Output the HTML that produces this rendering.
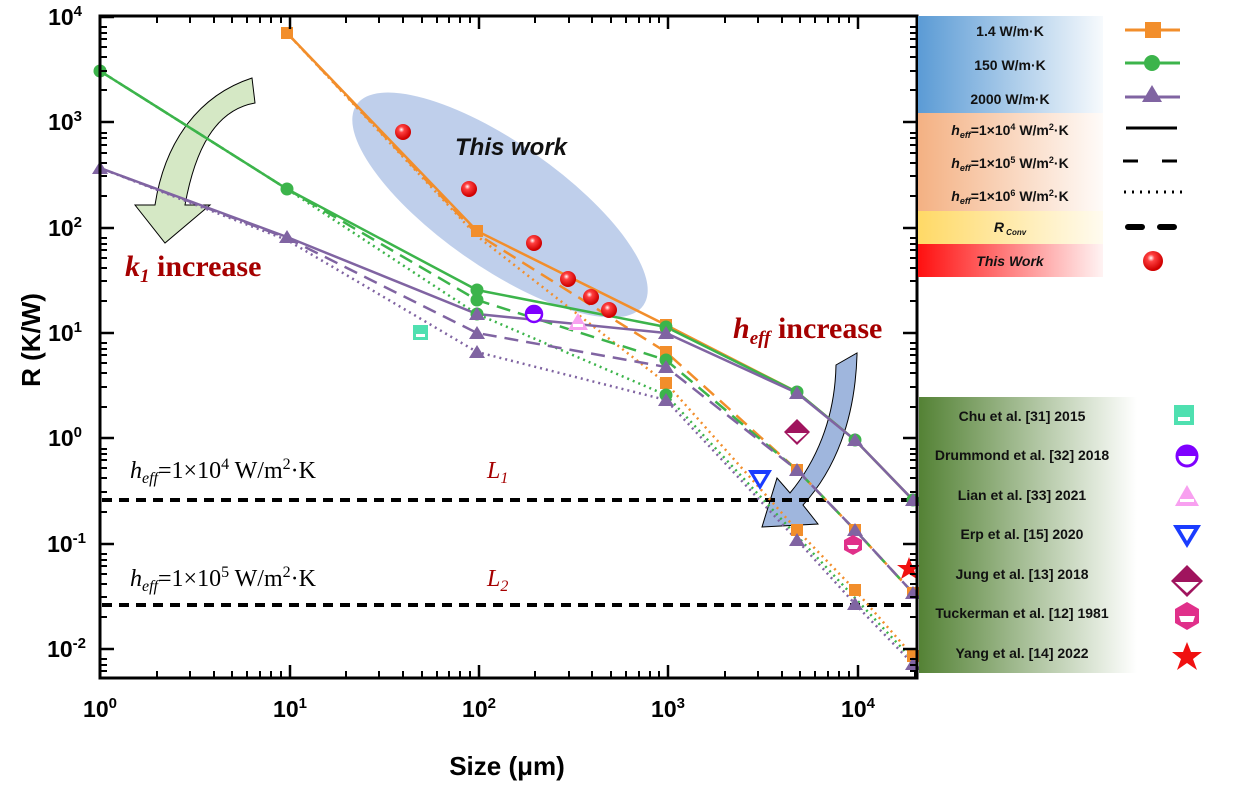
<!DOCTYPE html>
<html><head><meta charset="utf-8"><style>
body{margin:0;background:#fff;}
svg{display:block;font-family:"Liberation Sans",sans-serif;}
</style></head><body>
<svg width="1233" height="787" viewBox="0 0 1233 787" xmlns="http://www.w3.org/2000/svg">
<defs>
<linearGradient id="gb" x1="0" x2="1"><stop offset="0" stop-color="#5b9bd5"/><stop offset="1" stop-color="#5b9bd5" stop-opacity="0.05"/></linearGradient>
<linearGradient id="go" x1="0" x2="1"><stop offset="0" stop-color="#f4b183"/><stop offset="1" stop-color="#f4b183" stop-opacity="0.05"/></linearGradient>
<linearGradient id="gy" x1="0" x2="1"><stop offset="0" stop-color="#ffd966"/><stop offset="1" stop-color="#ffd966" stop-opacity="0.1"/></linearGradient>
<linearGradient id="gr" x1="0" x2="1"><stop offset="0" stop-color="#ff1010"/><stop offset="1" stop-color="#ff1010" stop-opacity="0.05"/></linearGradient>
<linearGradient id="gg" x1="0" x2="1"><stop offset="0" stop-color="#548235"/><stop offset="1" stop-color="#548235" stop-opacity="0"/></linearGradient>
<radialGradient id="ball" cx="0.4" cy="0.35" r="0.6"><stop offset="0" stop-color="#fff"/><stop offset="0.3" stop-color="#ff4040"/><stop offset="1" stop-color="#d00000"/></radialGradient>
</defs>

<ellipse cx="500" cy="205" rx="175" ry="62" transform="rotate(35 500 205)" fill="#b4c7e7" opacity="0.85"/>
<text x="455" y="155" font-size="24" font-weight="bold" font-style="italic" fill="#111">This work</text>

<path d="M252,78 L255,103 C215,110 195,150 185,205 L210,205 L165,243 L135,205 L155,205 C165,140 200,95 252,78 Z" fill="#d5e8c5" stroke="#000" stroke-width="1"/>
<path d="M857,353 L857,355 C855,420 835,470 803,505 L818,524 L762,527 L777,478 L790,493 C815,463 835,420 836,365 Z" fill="#9fb6dd" stroke="#000" stroke-width="1"/>

<g stroke="#000" stroke-width="4" stroke-dasharray="10,7">
<line x1="102" y1="500" x2="917" y2="500"/>
<line x1="102" y1="605" x2="917" y2="605"/>
</g>

<g fill="none" stroke-width="2.5" stroke-dasharray="2,4">
<polyline stroke="#f28e2b" points="287,33 477,236 666,383 797,530 855,590 913,656"/>
<polyline stroke="#3cb44b" points="100,71 287,189 477,314 666,395 797,536 855,598 913,660"/>
<polyline stroke="#8064a2" points="100,168 287,240 477,352 666,400 797,540 855,604 913,664"/>
</g>
<g fill="none" stroke-width="2.5" stroke-dasharray="14,8">
<polyline stroke="#f28e2b" points="287,33 477,234 666,352 797,470 855,530 913,593"/>
<polyline stroke="#3cb44b" points="100,71 287,189 477,300 666,360 797,470 855,530 913,593"/>
<polyline stroke="#8064a2" points="100,168 287,238 477,333 666,367 797,470 855,530 913,593"/>
</g>
<g fill="none" stroke-width="2.5">
<polyline stroke="#f28e2b" points="287,33 477,231 666,325 797,392 855,440 913,500"/>
<polyline stroke="#3cb44b" points="100,71 287,189 477,290 666,327 797,392 855,440 913,500"/>
<polyline stroke="#8064a2" points="100,168 287,237 477,314 666,333 797,393 855,440 913,500"/>
</g>

<g fill="#f28e2b">
<rect x="281" y="27" width="12" height="12"/><rect x="471" y="225" width="12" height="12"/><rect x="660" y="319" width="12" height="12"/><rect x="660" y="346" width="12" height="12"/><rect x="660" y="377" width="12" height="12"/><rect x="791" y="524" width="12" height="12"/><rect x="791" y="464" width="12" height="12"/><rect x="849" y="584" width="12" height="12"/><rect x="849" y="524" width="12" height="12"/><rect x="907" y="650" width="12" height="12"/><rect x="907" y="587" width="12" height="12"/>
</g>
<g fill="#3cb44b">
<circle cx="100" cy="71" r="6.5"/><circle cx="287" cy="189" r="6.5"/><circle cx="477" cy="290" r="6.5"/><circle cx="477" cy="300" r="6.5"/><circle cx="477" cy="314" r="6.5"/><circle cx="666" cy="327" r="6.5"/><circle cx="666" cy="360" r="6.5"/><circle cx="666" cy="395" r="6.5"/><circle cx="797" cy="392" r="6.5"/><circle cx="855" cy="440" r="6.5"/><circle cx="913" cy="500" r="6.5"/>
</g>
<g fill="#8064a2">
<path d="M100,161 l8,13 h-16z M287,230 l8,13 h-16z M477,307 l8,13 h-16z M477,326 l8,13 h-16z M477,345 l8,13 h-16z M666,326 l8,13 h-16z M666,360 l8,13 h-16z M666,393 l8,13 h-16z M797,386 l8,13 h-16z M797,463 l8,13 h-16z M797,533 l8,13 h-16z M855,433 l8,13 h-16z M855,523 l8,13 h-16z M855,597 l8,13 h-16z M913,493 l8,13 h-16z M913,586 l8,13 h-16z M913,657 l8,13 h-16z"/>
</g>

<g fill="url(#ball)">
<circle cx="403" cy="132" r="8"/><circle cx="469" cy="189" r="8"/><circle cx="534" cy="243" r="8"/><circle cx="568" cy="279" r="8"/><circle cx="591" cy="297" r="8"/><circle cx="609" cy="310" r="8"/>
</g>

<rect x="413" y="325" width="15" height="15" fill="#4fe0b0"/><rect x="416" y="334" width="9" height="3" fill="#fff"/>
<circle cx="534" cy="314" r="8" fill="#fff" stroke="#7f00ff" stroke-width="2.5"/><path d="M526,314 a8,8 0 0 1 16,0z" fill="#7f00ff"/>
<path d="M578,313 l10,17 h-20z" fill="#f8a0f0"/><rect x="573" y="324" width="10" height="3" fill="#fff"/>
<path d="M748,470 h24 l-12,20z" fill="#1a3cff"/><path d="M754,474 h12 l-6,10z" fill="#fff"/>
<path d="M797,419 l13,13 l-13,13 l-13,-13z" fill="#a0145e"/><path d="M787,433 h20 l-10,9z" fill="#fff"/>
<path d="M853,535 l9,5 v10 l-9,5 l-9,-5 v-10z" fill="#e0308a"/><path d="M847,545 h12 l-2,4 h-8z" fill="#fff"/>
<path d="M909,557 l3,8 h9 l-7,5 l3,9 l-8,-5 l-8,5 l3,-9 l-7,-5 h9z" fill="#f01010"/>

<rect x="100" y="16" width="817" height="662" fill="none" stroke="#000" stroke-width="3"/>
<g stroke="#000" stroke-width="2.5">
<line x1="100" y1="678" x2="100" y2="668"/><line x1="290" y1="678" x2="290" y2="665"/><line x1="479" y1="678" x2="479" y2="665"/><line x1="668" y1="678" x2="668" y2="665"/><line x1="858" y1="678" x2="858" y2="665"/>
<line x1="290" y1="16" x2="290" y2="29"/><line x1="479" y1="16" x2="479" y2="29"/><line x1="668" y1="16" x2="668" y2="29"/><line x1="858" y1="16" x2="858" y2="29"/>
<line x1="100" y1="17" x2="114" y2="17"/><line x1="100" y1="122" x2="114" y2="122"/><line x1="100" y1="228" x2="114" y2="228"/><line x1="100" y1="333" x2="114" y2="333"/><line x1="100" y1="438" x2="114" y2="438"/><line x1="100" y1="544" x2="114" y2="544"/><line x1="100" y1="649" x2="114" y2="649"/>
<line x1="917" y1="122" x2="903" y2="122"/><line x1="917" y1="228" x2="903" y2="228"/><line x1="917" y1="333" x2="903" y2="333"/><line x1="917" y1="438" x2="903" y2="438"/><line x1="917" y1="544" x2="903" y2="544"/><line x1="917" y1="649" x2="903" y2="649"/>
</g>
<g stroke="#000" stroke-width="2">
<path d="M157,678v-7M190,678v-7M214,678v-7M232,678v-7M247,678v-7M260,678v-7M271,678v-7M281,678v-7
M346,678v-7M379,678v-7M403,678v-7M422,678v-7M437,678v-7M449,678v-7M460,678v-7M470,678v-7
M535,678v-7M569,678v-7M592,678v-7M611,678v-7M626,678v-7M639,678v-7M650,678v-7M659,678v-7
M725,678v-7M758,678v-7M782,678v-7M800,678v-7M815,678v-7M828,678v-7M839,678v-7M849,678v-7M915,678v-7
M157,16v7M190,16v7M214,16v7M232,16v7M247,16v7M260,16v7M271,16v7M281,16v7
M346,16v7M379,16v7M403,16v7M422,16v7M437,16v7M449,16v7M460,16v7M470,16v7
M535,16v7M569,16v7M592,16v7M611,16v7M626,16v7M639,16v7M650,16v7M659,16v7
M725,16v7M758,16v7M782,16v7M800,16v7M815,16v7M828,16v7M839,16v7M849,16v7"/>
<path d="M100,27h7M100,33h7M100,39h7M100,47h7M100,57h7M100,71h7M100,90h7M100,133h7M100,138h7M100,145h7M100,153h7M100,163h7M100,176h7M100,196h7M100,238h7M100,244h7M100,250h7M100,258h7M100,268h7M100,281h7M100,301h7M100,343h7M100,349h7M100,355h7M100,363h7M100,373h7M100,387h7M100,407h7M100,449h7M100,454h7M100,460h7M100,468h7M100,478h7M100,492h7M100,512h7M100,554h7M100,560h7M100,566h7M100,574h7M100,584h7M100,597h7M100,617h7M100,659h7M100,665h7M100,671h7"/>
<path d="M917,27h-7M917,33h-7M917,39h-7M917,47h-7M917,57h-7M917,71h-7M917,90h-7M917,133h-7M917,138h-7M917,145h-7M917,153h-7M917,163h-7M917,176h-7M917,196h-7M917,238h-7M917,244h-7M917,250h-7M917,258h-7M917,268h-7M917,281h-7M917,301h-7M917,343h-7M917,349h-7M917,355h-7M917,363h-7M917,373h-7M917,387h-7M917,407h-7M917,449h-7M917,454h-7M917,460h-7M917,468h-7M917,478h-7M917,492h-7M917,512h-7M917,554h-7M917,560h-7M917,566h-7M917,574h-7M917,584h-7M917,597h-7M917,617h-7M917,659h-7M917,665h-7M917,671h-7"/>
</g>

<g font-size="23" font-weight="bold" fill="#000" text-anchor="end">
<text x="82" y="25">10<tspan dy="-9" font-size="15">4</tspan></text>
<text x="82" y="130">10<tspan dy="-9" font-size="15">3</tspan></text>
<text x="82" y="236">10<tspan dy="-9" font-size="15">2</tspan></text>
<text x="82" y="341">10<tspan dy="-9" font-size="15">1</tspan></text>
<text x="82" y="446">10<tspan dy="-9" font-size="15">0</tspan></text>
<text x="86" y="552">10<tspan dy="-9" font-size="15">-1</tspan></text>
<text x="86" y="657">10<tspan dy="-9" font-size="15">-2</tspan></text>
</g>
<g font-size="23" font-weight="bold" fill="#000" text-anchor="middle">
<text x="100" y="717">10<tspan dy="-9" font-size="15">0</tspan></text>
<text x="290" y="717">10<tspan dy="-9" font-size="15">1</tspan></text>
<text x="479" y="717">10<tspan dy="-9" font-size="15">2</tspan></text>
<text x="668" y="717">10<tspan dy="-9" font-size="15">3</tspan></text>
<text x="858" y="717">10<tspan dy="-9" font-size="15">4</tspan></text>
</g>
<text x="507" y="775" font-size="26" font-weight="bold" text-anchor="middle">Size (μm)</text>
<text transform="translate(40,340) rotate(-90)" font-size="26" font-weight="bold" text-anchor="middle">R (K/W)</text>

<g font-family="Liberation Serif,serif" font-weight="bold" fill="#a50000">
<text x="125" y="276" font-size="30"><tspan font-style="italic">k</tspan><tspan font-style="italic" font-size="19" dy="6">1</tspan><tspan dy="-6">  increase</tspan></text>
<text x="733" y="338" font-size="30"><tspan font-style="italic">h</tspan><tspan font-style="italic" font-size="19" dy="6">eff</tspan><tspan dy="-6">  increase</tspan></text>
<text x="487" y="478" font-size="24" font-style="italic" font-weight="normal">L<tspan font-size="16" dy="5">1</tspan></text>
<text x="487" y="586" font-size="24" font-style="italic" font-weight="normal">L<tspan font-size="16" dy="5">2</tspan></text>
</g>
<g font-family="Liberation Serif,serif" font-size="24" fill="#000">
<text x="130" y="478"><tspan font-style="italic">h</tspan><tspan font-style="italic" font-size="16" dy="5">eff</tspan><tspan dy="-5">=1×10</tspan><tspan font-size="16" dy="-9">4</tspan><tspan dy="9"> W/m</tspan><tspan font-size="16" dy="-9">2</tspan><tspan dy="9">·K</tspan></text>
<text x="130" y="586"><tspan font-style="italic">h</tspan><tspan font-style="italic" font-size="16" dy="5">eff</tspan><tspan dy="-5">=1×10</tspan><tspan font-size="16" dy="-9">5</tspan><tspan dy="9"> W/m</tspan><tspan font-size="16" dy="-9">2</tspan><tspan dy="9">·K</tspan></text>
</g>

<rect x="918" y="16" width="185" height="97" fill="url(#gb)"/>
<rect x="918" y="113" width="185" height="98" fill="url(#go)"/>
<rect x="918" y="211" width="185" height="33" fill="url(#gy)"/>
<rect x="918" y="244" width="185" height="33" fill="url(#gr)"/>
<g font-size="14" font-weight="bold" text-anchor="middle" fill="#111">
<text x="1010" y="36">1.4 W/m·K</text>
<text x="1010" y="70">150 W/m·K</text>
<text x="1010" y="104">2000 W/m·K</text>
<text x="1010" y="135"><tspan font-style="italic">h</tspan><tspan font-style="italic" font-size="9" dy="3">eff</tspan><tspan dy="-3">=1×10</tspan><tspan font-size="9" dy="-5">4</tspan><tspan dy="5"> W/m</tspan><tspan font-size="9" dy="-5">2</tspan><tspan dy="5">·K</tspan></text>
<text x="1010" y="168"><tspan font-style="italic">h</tspan><tspan font-style="italic" font-size="9" dy="3">eff</tspan><tspan dy="-3">=1×10</tspan><tspan font-size="9" dy="-5">5</tspan><tspan dy="5"> W/m</tspan><tspan font-size="9" dy="-5">2</tspan><tspan dy="5">·K</tspan></text>
<text x="1010" y="201"><tspan font-style="italic">h</tspan><tspan font-style="italic" font-size="9" dy="3">eff</tspan><tspan dy="-3">=1×10</tspan><tspan font-size="9" dy="-5">6</tspan><tspan dy="5"> W/m</tspan><tspan font-size="9" dy="-5">2</tspan><tspan dy="5">·K</tspan></text>
<text x="1010" y="232" font-style="italic">R<tspan font-size="8" dy="3"> Conv</tspan></text>
<text x="1010" y="266" font-style="italic">This Work</text>
</g>
<line x1="1125" y1="30" x2="1180" y2="30" stroke="#f28e2b" stroke-width="3"/><rect x="1145" y="22" width="16" height="16" fill="#f28e2b"/>
<line x1="1125" y1="63" x2="1180" y2="63" stroke="#3cb44b" stroke-width="3"/><circle cx="1152" cy="63" r="8" fill="#3cb44b"/>
<line x1="1125" y1="97" x2="1180" y2="97" stroke="#8064a2" stroke-width="3"/><path d="M1152,85 l10,17 h-20z" fill="#8064a2"/>
<line x1="1126" y1="128" x2="1177" y2="128" stroke="#000" stroke-width="3"/>
<path d="M1123,161h15M1162,161h15" stroke="#000" stroke-width="3"/>
<line x1="1124" y1="192" x2="1182" y2="192" stroke="#000" stroke-width="3" stroke-dasharray="2,6"/>
<path d="M1128,227h14M1160,227h14" stroke="#000" stroke-width="6" stroke-linecap="round"/>
<circle cx="1153" cy="261" r="10" fill="url(#ball)"/>

<rect x="919" y="397" width="218" height="276" fill="url(#gg)"/>
<g font-size="14" font-weight="bold" text-anchor="middle" fill="#111">
<text x="1022" y="421">Chu et al. [31] 2015</text>
<text x="1022" y="460">Drummond et al. [32] 2018</text>
<text x="1022" y="500">Lian et al. [33] 2021</text>
<text x="1022" y="539">Erp et al. [15] 2020</text>
<text x="1022" y="579">Jung et al. [13] 2018</text>
<text x="1022" y="618">Tuckerman et al. [12] 1981</text>
<text x="1022" y="658">Yang et al. [14] 2022</text>
</g>
<rect x="1174" y="405" width="20" height="20" fill="#4fe0b0"/><rect x="1178" y="417" width="12" height="4" fill="#fff"/>
<circle cx="1187" cy="456" r="10" fill="#fff" stroke="#7f00ff" stroke-width="3"/><path d="M1177,456 a10,10 0 0 1 20,0z" fill="#7f00ff"/>
<path d="M1187,485 l12,21 h-24z" fill="#f8a0f0"/><rect x="1180" y="499" width="14" height="3" fill="#fff"/>
<path d="M1173,525 h28 l-14,23z" fill="#1a3cff"/><path d="M1180,529 h14 l-7,12z" fill="#fff"/>
<path d="M1187,565 l16,16 l-16,16 l-16,-16z" fill="#a0145e"/><path d="M1175,582 h24 l-12,11z" fill="#fff"/>
<path d="M1187,602 l12,7 v14 l-12,7 l-12,-7 v-14z" fill="#e0308a"/><path d="M1179,616 h16 l-2,6 h-12z" fill="#fff"/>
<path d="M1187,642 l4,10 h11 l-9,7 l4,11 l-10,-7 l-10,7 l4,-11 l-9,-7 h11z" fill="#f01010"/>
</svg>
</body></html>
